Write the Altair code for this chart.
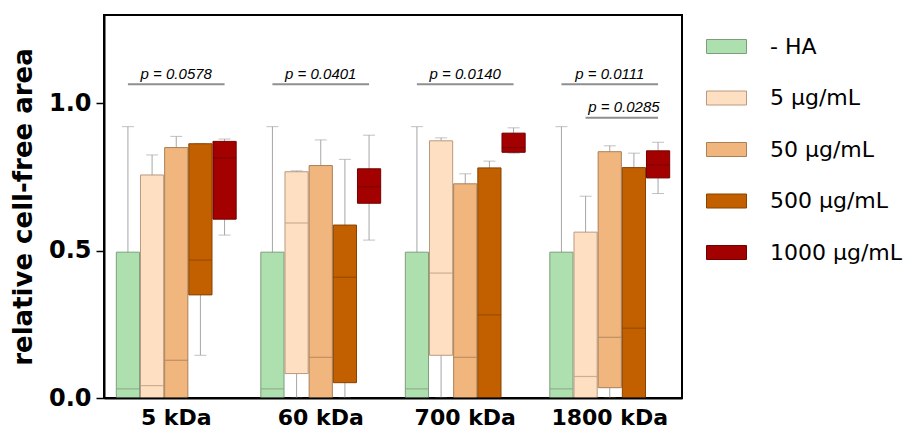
import altair as alt
import pandas as pd

groups = ["5 kDa", "60 kDa", "700 kDa", "1800 kDa"]
series = ["- HA", "5 µg/mL", "50 µg/mL", "500 µg/mL", "1000 µg/mL"]

# per group: values for the five series
mins = [
    [0.0, 0.0, 0.0, 0.145, 0.553],
    [0.0, 0.0, 0.0, 0.0, 0.536],
    [0.0, 0.0, 0.0, 0.0, 0.831],
    [0.0, 0.0, 0.0, 0.0, 0.694],
]
q1s = [
    [0.0, 0.0, 0.0, 0.350, 0.607],
    [0.0, 0.083, 0.0, 0.052, 0.661],
    [0.0, 0.145, 0.0, 0.0, 0.834],
    [0.0, 0.0, 0.035, 0.0, 0.747],
]
medians = [
    [0.031, 0.042, 0.128, 0.468, 0.815],
    [0.031, 0.594, 0.138, 0.410, 0.717],
    [0.031, 0.424, 0.138, 0.282, 0.850],
    [0.031, 0.073, 0.206, 0.237, 0.791],
]
q3s = [
    [0.495, 0.757, 0.850, 0.863, 0.871],
    [0.495, 0.768, 0.789, 0.587, 0.778],
    [0.495, 0.873, 0.727, 0.781, 0.899],
    [0.495, 0.563, 0.836, 0.782, 0.839],
]
maxs = [
    [0.921, 0.825, 0.888, 0.863, 0.879],
    [0.921, 0.771, 0.876, 0.810, 0.892],
    [0.921, 0.883, 0.761, 0.804, 0.917],
    [0.921, 0.685, 0.856, 0.831, 0.868],
]

fill_colors = ["#aedfae", "#ffdfc1", "#f1b67e", "#c26000", "#a30000"]
edge_colors = ["#7d9e7d", "#b89a80", "#a97f57", "#874300", "#720000"]

# significance annotations
ann_group = ["5 kDa", "60 kDa", "700 kDa", "1800 kDa", "1800 kDa"]
ann_from = ["- HA", "- HA", "- HA", "- HA", "5 µg/mL"]
ann_to = ["1000 µg/mL"] * 5
ann_y = [1.065, 1.065, 1.065, 1.065, 0.951]
ann_text_y = [1.083, 1.083, 1.083, 1.083, 0.970]
ann_label = ["p = 0.0578", "p = 0.0401", "p = 0.0140", "p = 0.0111", "p = 0.0285"]

rows = []
for gi, g in enumerate(groups):
    for si, s in enumerate(series):
        rows.append(dict(group=g, series=s, vmin=mins[gi][si], q1=q1s[gi][si],
                         med=medians[gi][si], q3=q3s[gi][si], vmax=maxs[gi][si]))
df = pd.DataFrame(rows)

line_rows = []
for i in range(len(ann_group)):
    line_rows.append(dict(id=i, group=ann_group[i], series=ann_from[i], y=ann_y[i]))
    line_rows.append(dict(id=i, group=ann_group[i], series=ann_to[i], y=ann_y[i]))
ldf = pd.DataFrame(line_rows)
tdf = pd.DataFrame(dict(group=ann_group, y=ann_text_y, label=ann_label,
                        mid=["50 µg/mL"] * 4 + ["500 µg/mL"]))

xenc = alt.X("group:N", sort=groups, title=None,
             scale=alt.Scale(domain=groups, paddingInner=0, paddingOuter=0),
             axis=alt.Axis(labelFont="DejaVu Sans", labelFontSize=22, labelFontWeight="bold",
                           labelColor="black", labelAngle=0, ticks=False, labelPadding=9,
                           domainColor="black", domainWidth=2, zindex=1))
xoff = alt.XOffset("series:N", sort=series,
                   scale=alt.Scale(domain=series, paddingInner=0.04, paddingOuter=0.51))
yscale = alt.Scale(domain=[0, 1.3], nice=False, zero=True)
yaxis = alt.Axis(values=[0, 0.5, 1.0], format=".1f", labelFont="DejaVu Sans",
                 labelFontSize=24, labelFontWeight="bold", labelColor="black",
                 tickSize=8, tickColor="black", tickWidth=1.5, labelPadding=5,
                 domainColor="black", domainWidth=2, grid=False,
                 title="relative cell-free area", titleFont="DejaVu Sans",
                 titleFontSize=26, titleFontWeight="bold", titleColor="black",
                 titlePadding=12, zindex=1)

base = alt.Chart(df)

whisk = base.mark_rule(color="#a6a6a6", strokeWidth=1).encode(
    x=xenc, xOffset=xoff,
    y=alt.Y("vmin:Q", scale=yscale, axis=yaxis), y2="vmax:Q")
cap_hi = base.mark_tick(color="#a6a6a6", size=12, thickness=1).encode(
    x=xenc, xOffset=xoff, y=alt.Y("vmax:Q", scale=yscale))
cap_lo = base.mark_tick(color="#a6a6a6", size=12, thickness=1).encode(
    x=xenc, xOffset=xoff, y=alt.Y("vmin:Q", scale=yscale))
box = base.mark_bar(strokeWidth=1, opacity=1).encode(
    x=xenc, xOffset=xoff,
    y=alt.Y("q1:Q", scale=yscale), y2="q3:Q",
    fill=alt.Fill("series:N", sort=series,
                  scale=alt.Scale(domain=series, range=fill_colors),
                  legend=alt.Legend(title=None, orient="none", legendX=602, legendY=11,
                                    symbolType="M-1,-0.35L1,-0.35L1,0.35L-1,0.35Z",
                                    symbolSize=1600, symbolStrokeColor="#8c8c8c",
                                    symbolStrokeWidth=1, symbolOpacity=1,
                                    labelFont="DejaVu Sans", labelFontSize=22,
                                    labelColor="black", labelOffset=23,
                                    labelLimit=300,
                                    rowPadding=19.5, padding=0)),
    stroke=alt.Stroke("series:N", sort=series,
                      scale=alt.Scale(domain=series, range=edge_colors), legend=None))
med = base.mark_tick(size=23, thickness=1.2).encode(
    x=xenc, xOffset=xoff, y=alt.Y("med:Q", scale=yscale),
    color=alt.Color("series:N", sort=series,
                    scale=alt.Scale(domain=series, range=edge_colors), legend=None))

lines = alt.Chart(ldf).mark_line(color="#8f8f8f", strokeWidth=2).encode(
    x=xenc, xOffset=xoff, y=alt.Y("y:Q", scale=yscale), detail="id:N")

t_main = alt.Chart(tdf).transform_filter(alt.datum.mid == "50 µg/mL").mark_text(
    font="Liberation Sans", fontStyle="italic", fontSize=15, color="black",
    baseline="alphabetic", align="center").encode(
    x=xenc, xOffset=alt.XOffset("mid:N", sort=series, scale=alt.Scale(domain=series)),
    y=alt.Y("y:Q", scale=yscale), text="label:N")
t_second = alt.Chart(tdf).transform_filter(alt.datum.mid == "500 µg/mL").mark_text(
    font="Liberation Sans", fontStyle="italic", fontSize=15, color="black",
    baseline="alphabetic", align="center", dx=-10).encode(
    x=xenc, xOffset=alt.XOffset("mid:N", sort=series, scale=alt.Scale(domain=series)),
    y=alt.Y("y:Q", scale=yscale), text="label:N")

chart = alt.layer(whisk, cap_hi, cap_lo, box, med, lines, t_main, t_second).properties(
    width=578, height=383,
    autosize=alt.AutoSizeParams(type="none"),
    padding={"left": 96, "top": 7, "right": 224, "bottom": 38},
).configure_view(stroke="black", strokeWidth=2).configure_axis(labelOverlap=False)

chart.save("out.html", embed_options={"renderer": "svg", "actions": False})
